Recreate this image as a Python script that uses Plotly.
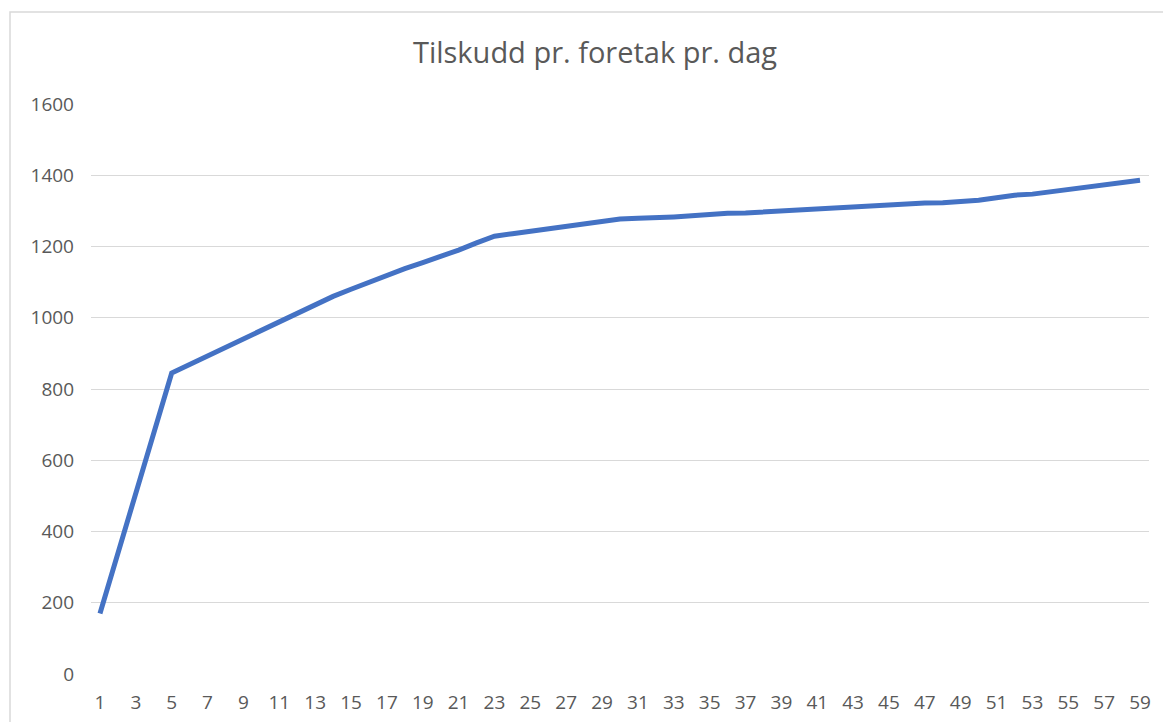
import plotly.graph_objects as go

days = list(range(1, 60))
tilskudd = [170, 339, 508, 676, 845, 869, 893, 917, 941, 965,
            989, 1013, 1037, 1060, 1080, 1100, 1120, 1138, 1155, 1172,
            1190, 1210, 1229, 1236, 1243, 1250, 1257, 1264, 1271, 1277,
            1279, 1280, 1283, 1286, 1290, 1293, 1294, 1297, 1300, 1303,
            1306, 1307, 1310, 1313, 1316, 1319, 1322, 1323, 1326, 1330,
            1337, 1344, 1347, 1354, 1361, 1367, 1374, 1380, 1386]
x_ticks = list(range(1, 60, 2))
y_ticks = list(range(0, 1601, 200))
title = "Tilskudd pr. foretak pr. dag"

fig = go.Figure()
fig.add_trace(go.Scatter(x=days, y=tilskudd, mode="lines",
                         line=dict(color="#4472C4", width=5),
                         hoverinfo="x+y", showlegend=False))

# page is offset by the 8px default body margin
FW, FH = 1163, 714
L, R, T, B = 83, 22, 96, 48
W = FW - L - R
H = FH - T - B

fig.update_layout(
    width=FW, height=FH,
    margin=dict(l=L, r=R, t=T, b=B, autoexpand=False),
    paper_bgcolor="white", plot_bgcolor="white",
    font=dict(family="Open Sans, sans-serif", color="#595959"),
    title=dict(text=title, x=(595 - 8) / FW, xref="container",
               xanchor="center",
               y=1 - 44.5 / FH, yanchor="middle",
               font=dict(size=29, color="#595959")),
    xaxis=dict(range=[0.5, 59.5], tickmode="array", tickvals=x_ticks,
               ticktext=[str(v) for v in x_ticks], showgrid=False,
               zeroline=False, showline=False, ticks="",
               tickfont=dict(size=19, color="#595959"),
               ticklabelstandoff=15, automargin=False, fixedrange=True),
    yaxis=dict(range=[0, 1600], tickmode="array", tickvals=y_ticks,
               showgrid=True, gridcolor="#d9d9d9", gridwidth=1.3,
               zeroline=False, showline=False, ticks="",
               tickfont=dict(size=19, color="#595959"),
               ticklabelstandoff=16, automargin=False, fixedrange=True),
    shapes=[dict(type="rect", xref="paper", yref="paper",
                 x0=(2 - L) / W, x1=(1180 - L) / W,
                 y0=(666 - 740) / H, y1=(666 - 4) / H,
                 line=dict(color="#d9d9d9", width=1.5), layer="below")],
)

fig.write_html("out.html")
